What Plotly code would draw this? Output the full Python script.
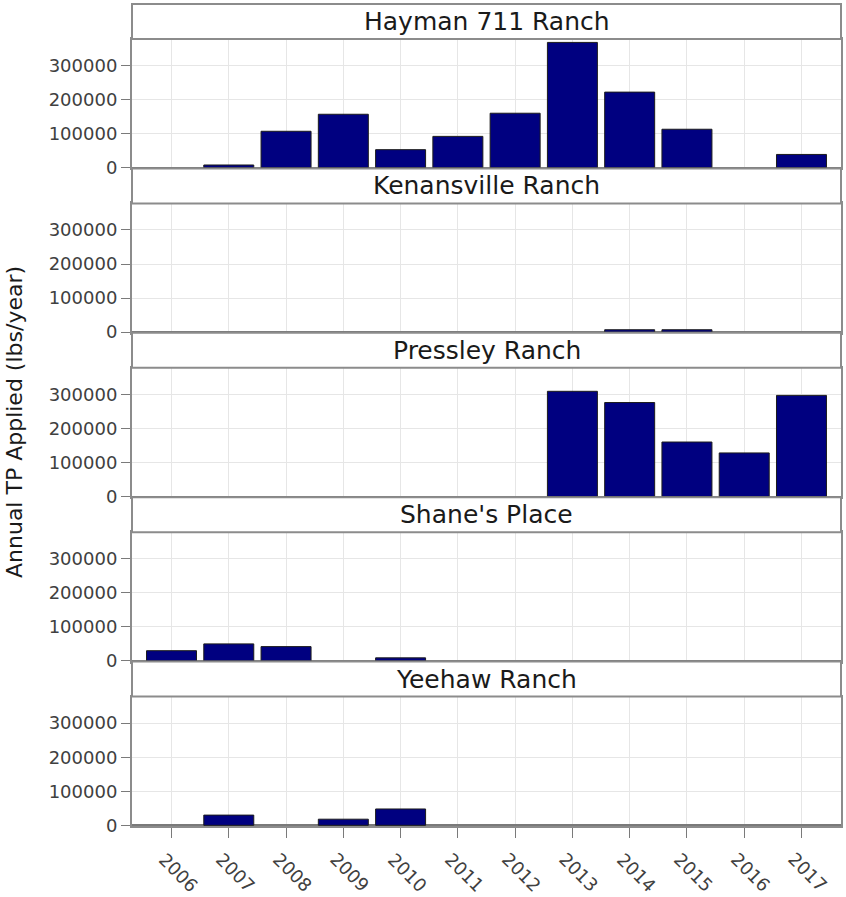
import plotly.graph_objects as go

# Annual total phosphorus applied per ranch (lbs/year)
years = ["2006", "2007", "2008", "2009", "2010", "2011",
         "2012", "2013", "2014", "2015", "2016", "2017"]
ranches = ["Hayman 711 Ranch", "Kenansville Ranch", "Pressley Ranch",
           "Shane's Place", "Yeehaw Ranch"]

hayman = [0, 8000, 107000, 157000, 53000, 92000, 160000, 368000, 222000, 113000, 0, 39000]
kenansville = [0, 0, 0, 0, 0, 0, 0, 0, 7000, 7000, 0, 0]
pressley = [0, 0, 0, 0, 0, 0, 0, 309000, 276000, 160000, 128000, 297000]
shanes = [30000, 50000, 42000, 0, 9000, 0, 0, 0, 0, 0, 0, 0]
yeehaw = [0, 30000, 0, 18000, 48000, 0, 0, 0, 0, 0, 0, 0]

series = [hayman, kenansville, pressley, shanes, yeehaw]

y_ticks = [0, 100000, 200000, 300000]
y_range = [-2000, 378000]

W, H = 846, 897
FONT = "DejaVu Sans"
BORDER = "#8c8c8c"
GRID = "#e6e6e6"

# facet geometry in pixels from the top of the page
top0 = 4.0
period = 164.4
strip_h = 35.0

fig = go.Figure()
shapes = []
annotations = []

for i, (name, vals) in enumerate(zip(ranches, series)):
    k = "" if i == 0 else str(i + 1)
    strip_top = top0 + i * period
    strip_bot = strip_top + strip_h
    plot_bot = strip_top + period
    d0 = (H - plot_bot) / H
    d1 = (H - strip_bot) / H

    xs = [x for x, v in zip(years, vals) if v > 0]
    ys = [v for v in vals if v > 0]
    fig.add_trace(go.Bar(
        x=xs, y=ys, xaxis="x" + k, yaxis="y" + k,
        marker=dict(color="#000080", line=dict(color="#1c1c1c", width=1)),
        showlegend=False, hoverinfo="x+y",
    ))

    last = i == len(ranches) - 1
    fig.update_layout({
        "xaxis" + k: dict(
            type="category", categoryorder="array", categoryarray=years,
            range=[-0.69, 11.69], anchor="y" + k, domain=[0, 1],
            showgrid=True, gridcolor=GRID, gridwidth=1,
            showline=True, mirror=True, linecolor=BORDER, linewidth=2,
            ticks="outside" if last else "", ticklen=10, tickcolor="#7a7a7a",
            tickwidth=1, showticklabels=False, zeroline=False,
            automargin=False, fixedrange=True,
        ),
        "yaxis" + k: dict(
            domain=[d0, d1], anchor="x" + k, range=y_range,
            tickmode="array", tickvals=y_ticks,
            ticktext=[str(t) for t in y_ticks],
            showgrid=True, gridcolor=GRID, gridwidth=1,
            showline=True, mirror=True, linecolor=BORDER, linewidth=2,
            ticks="outside", ticklen=9, tickcolor="#7a7a7a", tickwidth=1,
            tickfont=dict(family=FONT, size=18, color="#404040"),
            zeroline=True, zerolinecolor="#7a7a7a", zerolinewidth=2,
            automargin=False, fixedrange=True,
        ),
    })

    # facet strip
    shapes.append(dict(
        type="rect", xref="paper", yref="paper",
        x0=0, x1=1, y0=d1, y1=(H - strip_top) / H,
        fillcolor="white", line=dict(color=BORDER, width=2), layer="above",
    ))
    annotations.append(dict(
        text=name, xref="paper", yref="paper",
        x=0.5, y=(H - (strip_top + strip_bot) / 2) / H,
        xanchor="center", yanchor="middle", showarrow=False,
        font=dict(family=FONT, size=25, color="#1a1a1a"),
    ))

# rotated year labels under the bottom facet (positioned by category index)
bottom_y = (H - (top0 + 5 * period)) / H
for j, yr in enumerate(years):
    annotations.append(dict(
        text=yr, xref="x5", yref="paper", x=j, y=bottom_y,
        xanchor="center", yanchor="middle", xshift=7, yshift=-46,
        textangle=45, showarrow=False,
        font=dict(family=FONT, size=18, color="#404040"),
    ))

# shared y-axis title
annotations.append(dict(
    text="Annual TP Applied (lbs/year)", xref="paper", yref="paper",
    x=0, y=(H - 422) / H, xshift=-117, xanchor="center", yanchor="middle",
    textangle=-90, showarrow=False,
    font=dict(family=FONT, size=22, color="#1a1a1a"),
))

fig.update_layout(
    width=W, height=H,
    margin=dict(l=132, r=5, t=0, b=0),
    paper_bgcolor="white", plot_bgcolor="white",
    bargap=0.127,
    shapes=shapes, annotations=annotations,
    font=dict(family=FONT),
)

fig.write_html("out.html")
